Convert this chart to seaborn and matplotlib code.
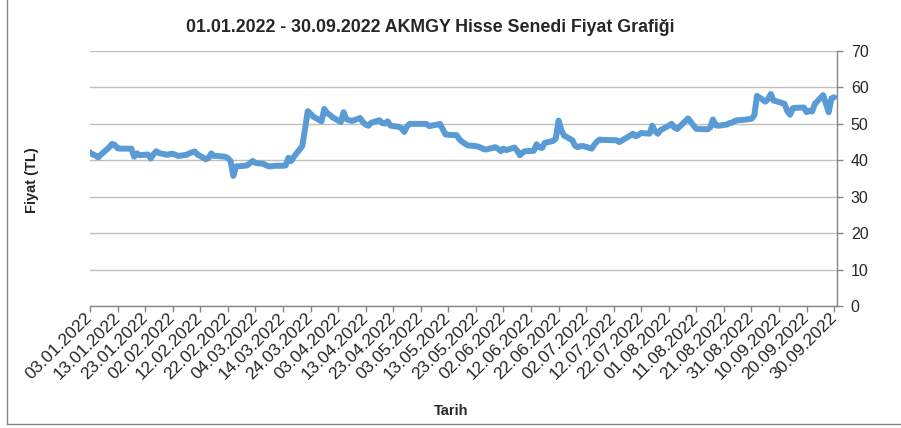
#AKMGY price chart, Excel style line chart redrawn with seaborn

import pandas as pd
import numpy as np
import matplotlib.pyplot as plt
import matplotlib.dates as mdates
from matplotlib.lines import Line2D
import seaborn as sns

# trading days (dd.mm) and closing prices
sDates = ['03.01','04.01','05.01','06.01','07.01','10.01','11.01','12.01','13.01','14.01',
          '17.01','18.01','19.01','20.01','21.01','24.01','25.01','26.01','27.01','28.01',
          '31.01','01.02','02.02','03.02','04.02','07.02','08.02','09.02','10.02','11.02',
          '14.02','15.02','16.02','17.02','18.02','21.02','22.02','23.02','24.02','25.02',
          '28.02','01.03','02.03','03.03','04.03','07.03','08.03','09.03','10.03','11.03',
          '14.03','15.03','16.03','17.03','18.03','21.03','22.03','23.03','24.03','25.03',
          '28.03','29.03','30.03','31.03','01.04','04.04','05.04','06.04','07.04','08.04',
          '11.04','12.04','13.04','14.04','15.04','18.04','19.04','20.04','21.04','22.04',
          '25.04','26.04','27.04','28.04','29.04','05.05','06.05','09.05','10.05','11.05',
          '12.05','13.05','16.05','17.05','18.05','20.05','23.05','24.05','25.05','26.05',
          '27.05','30.05','31.05','01.06','02.06','03.06','06.06','07.06','08.06','09.06',
          '10.06','13.06','14.06','15.06','16.06','17.06','20.06','21.06','22.06','23.06',
          '24.06','27.06','28.06','29.06','30.06','01.07','04.07','05.07','06.07','07.07',
          '08.07','13.07','14.07','18.07','19.07','20.07','21.07','22.07','25.07','26.07',
          '27.07','28.07','29.07','01.08','02.08','03.08','04.08','05.08','08.08','09.08',
          '10.08','11.08','12.08','15.08','16.08','17.08','18.08','19.08','22.08','23.08',
          '24.08','25.08','26.08','29.08','31.08','01.09','02.09','05.09','06.09','07.09',
          '08.09','09.09','12.09','13.09','14.09','15.09','16.09','19.09','20.09','21.09',
          '22.09','23.09','26.09','27.09','28.09','29.09','30.09']
prices = [42.2,41.6,41.3,40.8,41.6,43.6,44.5,44.2,43.3,43.2,
          43.2,43.2,41.0,41.9,41.4,41.6,40.5,41.6,42.5,42.0,
          41.5,41.7,41.8,41.5,41.2,41.5,41.9,42.2,42.4,41.6,
          40.3,40.6,41.9,41.2,41.2,41.0,40.6,39.8,35.7,38.3,
          38.5,38.6,39.2,39.8,39.3,39.0,38.6,38.3,38.4,38.5,
          38.5,38.6,40.7,39.8,41.0,43.9,48.5,53.5,52.8,52.0,
          50.7,54.1,53.0,52.5,51.8,50.5,53.2,51.3,51.0,50.8,
          51.6,50.5,49.8,49.5,50.3,51.0,50.2,50.1,50.7,49.5,
          49.2,48.8,47.8,49.3,50.0,50.0,49.4,49.8,50.0,48.5,
          47.1,47.0,46.9,45.8,45.1,44.1,43.9,43.7,43.4,43.0,
          43.0,43.6,43.2,42.5,43.2,42.8,43.5,42.6,41.4,42.2,
          42.5,42.6,44.4,43.6,43.4,44.8,45.3,46.0,50.9,48.3,
          46.8,45.5,44.0,43.6,43.9,43.9,43.2,44.3,45.2,45.7,
          45.6,45.5,45.0,46.8,47.3,46.6,47.0,47.5,47.3,49.5,
          48.0,47.3,48.3,49.5,50.0,49.0,48.6,49.3,51.5,50.5,
          49.5,48.6,48.6,48.5,49.0,51.2,49.6,49.5,49.8,50.2,
          50.4,50.8,51.0,51.2,51.4,52.3,57.7,56.1,56.8,58.2,
          56.4,56.2,55.5,53.5,52.5,54.3,54.4,54.5,53.2,53.6,
          53.4,55.5,57.9,55.5,53.2,57.0,57.3]

yTicks = [0, 10, 20, 30, 40, 50, 60, 70]

df = pd.DataFrame({'Tarih': pd.to_datetime([d + '.2022' for d in sDates], format='%d.%m.%Y'),
                   'Fiyat': prices})

sns.set_style('white')
plt.rcParams['font.family'] = ['Liberation Sans', 'DejaVu Sans']

fig = plt.figure(figsize=(9.01, 4.28), dpi=100)
ax = fig.add_axes([0.0999, 0.285, 0.829, 0.5958])

sns.lineplot(data=df, x='Tarih', y='Fiyat', color='#5B9BD5', linewidth=4.3,
             solid_capstyle='round', solid_joinstyle='round', ax=ax)

# y axis on the right like the Excel original
ax.yaxis.tick_right()
ax.set_ylim(0, 70)
ax.set_yticks(yTicks)
ax.grid(axis='y', color='#BFBFBF', linewidth=1.0)
ax.set_axisbelow(True)

# date axis, one tick every 10 days
xTicks = pd.date_range('2022-01-03', '2022-09-30', freq='10D')
ax.set_xticks(xTicks)
ax.xaxis.set_major_formatter(mdates.DateFormatter('%d.%m.%Y'))
ax.set_xlim(pd.Timestamp('2022-01-03'), pd.Timestamp('2022-10-01'))
for lbl in ax.get_xticklabels():
    lbl.set_rotation(45)
    lbl.set_ha('right')
    lbl.set_va('center')
    lbl.set_rotation_mode('anchor')

for side in ['left', 'top']:
    ax.spines[side].set_visible(False)
for side in ['bottom', 'right']:
    ax.spines[side].set_color('#868686')
    ax.spines[side].set_linewidth(1.0)

ax.tick_params(axis='x', direction='out', length=4, width=1, color='#868686',
               labelsize=12.5, pad=3, bottom=True)
ax.tick_params(axis='y', direction='out', length=4, width=1, color='#868686',
               labelsize=11.5, pad=6, right=True, left=False)

ax.set_xlabel('')
ax.set_ylabel('')
fig.text(0.036, 0.58, 'Fiyat (TL)', rotation=90, ha='center', va='center',
         fontsize=10.5, fontweight='bold')
fig.text(0.5005, 0.04, 'Tarih', ha='center', va='center', fontsize=10.5, fontweight='bold')
fig.text(0.478, 0.935, '01.01.2022 - 30.09.2022 AKMGY Hisse Senedi Fiyat Grafiği',
         ha='center', va='center', fontsize=12.8, fontweight='bold')

# chart area border (left and bottom visible in the original crop)
fig.add_artist(Line2D([7/901, 7/901], [1, 1 - 424/428], transform=fig.transFigure,
                      color='#868686', linewidth=1))
fig.add_artist(Line2D([7/901, 1], [1 - 424/428, 1 - 424/428], transform=fig.transFigure,
                      color='#868686', linewidth=1))

plt.savefig('out.png', dpi=100)
